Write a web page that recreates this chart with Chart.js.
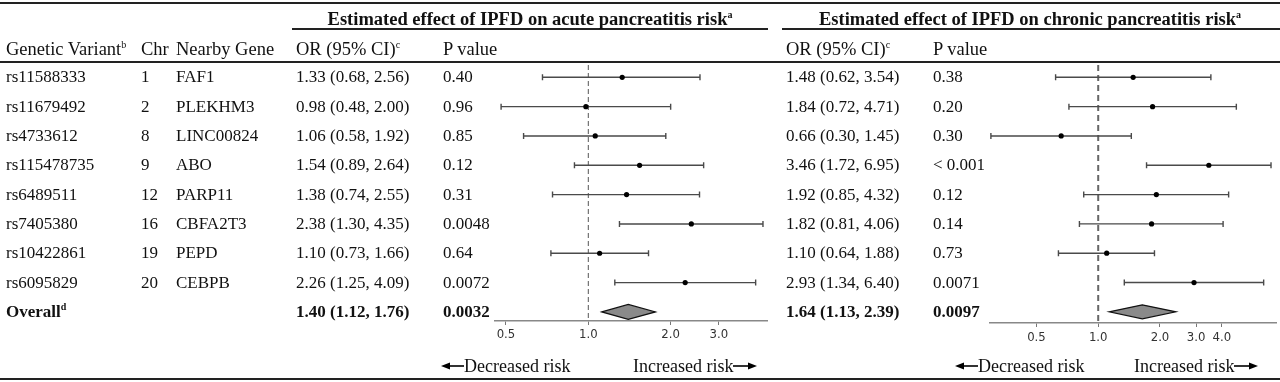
<!DOCTYPE html>
<html>
<head>
<meta charset="utf-8">
<script src="https://cdn.jsdelivr.net/npm/chart.js@4.4.0/dist/chart.umd.min.js"></script>
<style>
  body { margin: 0; background: #fff; }
  #wrap { position: relative; width: 1280px; height: 382px; overflow: hidden;
          font-family: 'Liberation Serif', 'Times New Roman', serif; color: #111; }
  #wrap canvas { position: absolute; left: 0; top: 0; }
  .t { position: absolute; font-size: 17px; line-height: 20px; white-space: nowrap; }
  .h { font-size: 18.5px; }
  .r { font-size: 18px; }
  .b { font-weight: bold; }
  .sup { font-size: 10px; position: relative; top: -7px; }
  .rule { position: absolute; background: #222; }
  .t svg { vertical-align: middle; position: relative; top: -2px; }
</style>
</head>
<body>
<div id="wrap">
  <canvas id="acute" width="1280" height="382"></canvas>
  <canvas id="chronic" width="1280" height="382"></canvas>
</div>
<script>
// Table data
const variants = ['rs11588333', 'rs11679492', 'rs4733612', 'rs115478735', 'rs6489511', 'rs7405380', 'rs10422861', 'rs6095829'];
const chromosomes = ['1', '2', '8', '9', '12', '16', '19', '20'];
const genes = ['FAF1', 'PLEKHM3', 'LINC00824', 'ABO', 'PARP11', 'CBFA2T3', 'PEPD', 'CEBPB'];

// Acute pancreatitis
const acuteOR = [1.33, 0.98, 1.06, 1.54, 1.38, 2.38, 1.10, 2.26];
const acuteLo = [0.68, 0.48, 0.58, 0.89, 0.74, 1.30, 0.73, 1.25];
const acuteHi = [2.56, 2.00, 1.92, 2.64, 2.55, 4.35, 1.66, 4.09];
const acuteP = ['0.40', '0.96', '0.85', '0.12', '0.31', '0.0048', '0.64', '0.0072'];
const acuteOverall = [1.40, 1.12, 1.76];
const acuteOverallP = '0.0032';
const acuteTicks = [0.5, 1, 2, 3];

// Chronic pancreatitis
const chronicOR = [1.48, 1.84, 0.66, 3.46, 1.92, 1.82, 1.10, 2.93];
const chronicLo = [0.62, 0.72, 0.30, 1.72, 0.85, 0.81, 0.64, 1.34];
const chronicHi = [3.54, 4.71, 1.45, 6.95, 4.32, 4.06, 1.88, 6.40];
const chronicP = ['0.38', '0.20', '0.30', '< 0.001', '0.12', '0.14', '0.73', '0.0071'];
const chronicOverall = [1.64, 1.13, 2.39];
const chronicOverallP = '0.0097';
const chronicTicks = [0.5, 1, 2, 3, 4];

const wrap = document.getElementById('wrap');
const rowY = i => 77.3 + 29.33 * i;

function fmtCI(est, lo, hi) {
    return `${est.toFixed(2)} (${lo.toFixed(2)}, ${hi.toFixed(2)})`;
}

// put a piece of text with its visual centre at y
function put(x, y, html, cls, width, align) {
    const d = document.createElement('div');
    d.className = 't ' + (cls || '');
    d.style.left = x + 'px';
    d.style.top = (y - 10) + 'px';
    if (width) { d.style.width = width + 'px'; d.style.textAlign = align || 'left'; }
    d.innerHTML = html;
    wrap.appendChild(d);
    return d;
}

function rule(x, y, w, h) {
    const d = document.createElement('div');
    d.className = 'rule';
    d.style.left = x + 'px'; d.style.top = y + 'px';
    d.style.width = w + 'px'; d.style.height = h + 'px';
    wrap.appendChild(d);
}

const leftArrow = '<svg width="23" height="10"><line x1="6" y1="5" x2="23" y2="5" stroke="#000" stroke-width="1.6"/><polygon points="0,5 9,1.5 9,8.5" fill="#000"/></svg>';
const rightArrow = '<svg width="24" height="10"><line x1="0" y1="5" x2="17" y2="5" stroke="#000" stroke-width="1.6"/><polygon points="24,5 15,1.5 15,8.5" fill="#000"/></svg>';

// Column positions
const col = { variant: 6, chr: 141, gene: 176, aOR: 296, aP: 443, cOR: 786, cP: 933 };

// Rules
rule(0, 2, 1280, 2);
rule(292, 28, 476, 1.5);
rule(782, 28, 498, 1.5);
rule(0, 61, 1280, 1.5);
rule(0, 378, 1280, 2);

// Headers
put(292, 19, 'Estimated effect of IPFD on acute pancreatitis risk<span class="sup">a</span>', 'b h', 476, 'center');
put(782, 19, 'Estimated effect of IPFD on chronic pancreatitis risk<span class="sup">a</span>', 'b h', 496, 'center');
put(col.variant, 49, 'Genetic Variant<span class="sup">b</span>', 'h');
put(col.chr, 49, 'Chr', 'h');
put(col.gene, 49, 'Nearby Gene', 'h');
put(col.aOR, 49, 'OR (95% CI)<span class="sup">c</span>', 'h');
put(col.aP, 49, 'P value', 'h');
put(col.cOR, 49, 'OR (95% CI)<span class="sup">c</span>', 'h');
put(col.cP, 49, 'P value', 'h');

// Rows
variants.forEach((v, i) => {
    const y = rowY(i);
    put(col.variant, y, v);
    put(col.chr, y, chromosomes[i]);
    put(col.gene, y, genes[i]);
    put(col.aOR, y, fmtCI(acuteOR[i], acuteLo[i], acuteHi[i]));
    put(col.aP, y, acuteP[i]);
    put(col.cOR, y, fmtCI(chronicOR[i], chronicLo[i], chronicHi[i]));
    put(col.cP, y, chronicP[i]);
});
const yo = rowY(8);
put(col.variant, yo, 'Overall<span class="sup">d</span>', 'b');
put(col.aOR, yo, fmtCI(...acuteOverall), 'b');
put(col.aP, yo, acuteOverallP, 'b');
put(col.cOR, yo, fmtCI(...chronicOverall), 'b');
put(col.cP, yo, chronicOverallP, 'b');

// Risk direction labels
put(441, 366, leftArrow + 'Decreased risk', 'r');
put(633, 366, 'Increased risk' + rightArrow, 'r');
put(955, 366, leftArrow + 'Decreased risk', 'r');
put(1134, 366, 'Increased risk' + rightArrow, 'r');

// Whiskers, reference line and summary diamond
function forestPlugin(cfg) {
    return {
        id: 'forest',
        beforeDatasetsDraw(chart) {
            const { ctx, chartArea, scales: { x, y } } = chart;
            ctx.save();
            const x1 = x.getPixelForValue(1);
            ctx.strokeStyle = cfg.refColor;
            ctx.lineWidth = cfg.refWidth;
            ctx.setLineDash(cfg.dash);
            ctx.beginPath();
            ctx.moveTo(x1, chartArea.top);
            ctx.lineTo(x1, chartArea.bottom);
            ctx.stroke();
            ctx.setLineDash([]);
            ctx.strokeStyle = '#4a4a4a';
            ctx.lineWidth = 1.4;
            cfg.lo.forEach((lo, i) => {
                const yp = y.getPixelForValue(i);
                const xl = x.getPixelForValue(lo);
                const xh = x.getPixelForValue(cfg.hi[i]);
                ctx.beginPath();
                ctx.moveTo(xl, yp); ctx.lineTo(xh, yp);
                ctx.moveTo(xl, yp - 3); ctx.lineTo(xl, yp + 3);
                ctx.moveTo(xh, yp - 3); ctx.lineTo(xh, yp + 3);
                ctx.stroke();
            });
            ctx.restore();
        },
        afterDatasetsDraw(chart) {
            const { ctx, scales: { x, y } } = chart;
            const [est, lo, hi] = cfg.overall;
            const yp = y.getPixelForValue(8);
            ctx.save();
            ctx.beginPath();
            ctx.moveTo(x.getPixelForValue(lo), yp);
            ctx.lineTo(x.getPixelForValue(est), yp - cfg.dh);
            ctx.lineTo(x.getPixelForValue(hi), yp);
            ctx.lineTo(x.getPixelForValue(est), yp + cfg.dh);
            ctx.closePath();
            ctx.fillStyle = '#8a8a8a';
            ctx.fill();
            ctx.strokeStyle = '#111';
            ctx.lineWidth = 1.2;
            ctx.stroke();
            ctx.restore();
        }
    };
}

function makeChart(id, cfg) {
    return new Chart(document.getElementById(id), {
        type: 'scatter',
        data: {
            datasets: [{
                data: cfg.or.map((v, i) => ({ x: v, y: i })),
                pointRadius: 2.6,
                pointBackgroundColor: '#000',
                pointBorderWidth: 0
            }]
        },
        options: {
            responsive: false,
            animation: false,
            events: [],
            layout: { padding: { left: cfg.left, right: 1280 - cfg.right, top: 65, bottom: 382 - cfg.axisY - 40 } },
            plugins: { legend: { display: false }, tooltip: { enabled: false } },
            scales: {
                x: {
                    type: 'logarithmic',
                    min: cfg.min,
                    max: cfg.max,
                    afterBuildTicks: s => { s.ticks = cfg.ticks.map(v => ({ value: v })); },
                    afterFit: s => { s.height = 40; },
                    ticks: {
                        callback: v => Number(v).toFixed(1),
                        autoSkip: false,
                        maxRotation: 0,
                        padding: cfg.tickPad,
                        color: '#333',
                        font: { family: "'Liberation Sans Narrow', 'DejaVu Sans Condensed', sans-serif", size: 13 }
                    },
                    grid: { drawOnChartArea: false, tickLength: 4, color: '#777' },
                    border: { color: '#888', width: 1.5 }
                },
                y: { type: 'linear', display: false, reverse: true, min: -0.42, max: cfg.ymax }
            }
        },
        plugins: [forestPlugin(cfg)]
    });
}

makeChart('acute', {
    or: acuteOR, lo: acuteLo, hi: acuteHi, overall: acuteOverall, ticks: acuteTicks,
    left: 495, right: 767, axisY: 321, min: 0.456, max: 4.5, ymax: 8.31, tickPad: 2,
    refColor: '#555', refWidth: 1, dash: [5, 3], dh: 7.5
});
makeChart('chronic', {
    or: chronicOR, lo: chronicLo, hi: chronicHi, overall: chronicOverall, ticks: chronicTicks,
    left: 990, right: 1280, axisY: 323, min: 0.297, max: 7.35, ymax: 8.38, tickPad: 3,
    refColor: '#666', refWidth: 2, dash: [6, 4], dh: 7
});
</script>
</body>
</html>
